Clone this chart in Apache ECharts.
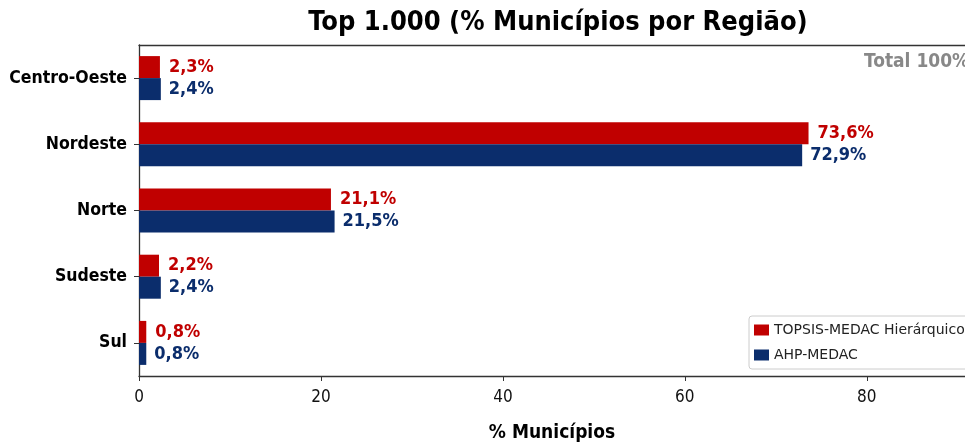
<!DOCTYPE html>
<html>
<head>
<meta charset="utf-8">
<script src="https://cdn.jsdelivr.net/npm/echarts@6/dist/echarts.min.js"></script>
<style>
  html, body { margin: 0; padding: 0; background: #fff; }
  #chart { width: 965px; height: 446px; }
</style>
</head>
<body>
<div id="chart"></div>
<script>
const regions = ['Centro-Oeste', 'Nordeste', 'Norte', 'Sudeste', 'Sul']
const topsis = [2.3, 73.6, 21.1, 2.2, 0.8]
const ahp = [2.4, 72.9, 21.5, 2.4, 0.8]
const xTicks = [0, 20, 40, 60, 80]

const RED = '#C00000'
const BLUE = '#0B2D6C'
const FONT = '"DejaVu Sans Condensed", "DejaVu Sans", sans-serif'

const pct = v => v.toFixed(1).replace('.', ',') + '%'

const chart = echarts.init(document.getElementById('chart'))
chart.setOption({
  animation: false,
  title: [
    {
      text: 'Top 1.000 (% Municípios por Região)',
      left: 553, top: 4, textAlign: 'center',
      textStyle: { fontFamily: FONT, fontWeight: 'bold', fontSize: 27, color: '#000' }
    },
    {
      text: 'Total 100%',
      left: 859, top: 48,
      textStyle: { fontFamily: FONT, fontWeight: 'bold', fontSize: 19, color: '#888' }
    }
  ],
  legend: {
    orient: 'vertical',
    left: 749, top: 316,
    icon: 'rect',
    itemWidth: 15, itemHeight: 11, itemGap: 11,
    padding: [7, 6, 7, 5],
    borderColor: '#ccc', borderWidth: 1, borderRadius: 3,
    textStyle: { fontFamily: '"DejaVu Sans", sans-serif', fontSize: 14, color: '#222' },
    data: ['TOPSIS-MEDAC Hierárquico', 'AHP-MEDAC']
  },
  grid: { left: 139, right: 0, top: 45, bottom: 70, outerBoundsMode: 'none' },
  xAxis: [
    {
      type: 'value', min: 0, max: 90.8, interval: 20,
      name: '% Municípios', nameLocation: 'middle', nameGap: 48,
      nameTextStyle: { fontFamily: FONT, fontWeight: 'bold', fontSize: 19, color: '#000' },
      splitLine: { show: false },
      axisLine: { show: true, lineStyle: { color: '#333', width: 1.3 } },
      axisTick: { show: true, length: 5, lineStyle: { color: '#333' } },
      axisLabel: {
        fontFamily: FONT, fontSize: 17, color: '#111', margin: 13,
        showMaxLabel: false,
        formatter: v => (xTicks.includes(v) ? String(v) : '')
      }
    },
    {
      // top spine
      type: 'value', position: 'top', min: 0, max: 90.8,
      splitLine: { show: false },
      axisLine: { show: true, lineStyle: { color: '#333', width: 1.3 } },
      axisTick: { show: false },
      axisLabel: { show: false }
    }
  ],
  yAxis: {
    type: 'category', data: regions, inverse: true,
    axisLine: { show: true, lineStyle: { color: '#333', width: 1.3 } },
    axisTick: { show: true, alignWithLabel: true, length: 5, lineStyle: { color: '#333' } },
    axisLabel: { fontFamily: FONT, fontWeight: 'bold', fontSize: 17.5, color: '#000', margin: 12 }
  },
  series: [
    {
      name: 'TOPSIS-MEDAC Hierárquico', type: 'bar', data: topsis,
      barWidth: 22, barGap: '0%',
      itemStyle: { color: RED },
      label: {
        show: true, position: 'right', distance: 9,
        fontFamily: FONT, fontWeight: 'bold', fontSize: 18, color: RED,
        formatter: p => pct(p.value)
      }
    },
    {
      name: 'AHP-MEDAC', type: 'bar', data: ahp,
      barWidth: 22, barGap: '0%',
      itemStyle: { color: BLUE },
      label: {
        show: true, position: 'right', distance: 8,
        fontFamily: FONT, fontWeight: 'bold', fontSize: 18, color: BLUE,
        formatter: p => pct(p.value)
      }
    }
  ]
})
</script>
</body>
</html>
